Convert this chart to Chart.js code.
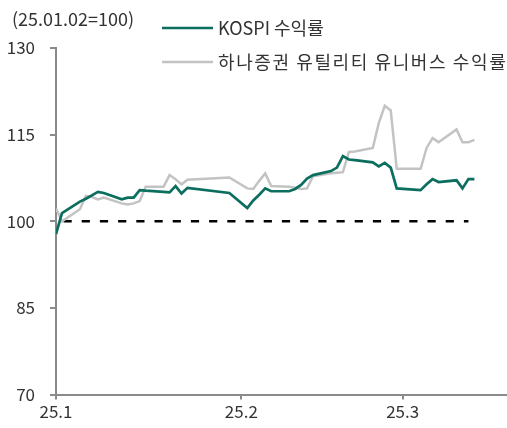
<!DOCTYPE html>
<html>
<head>
<meta charset="utf-8">
<script src="https://cdn.jsdelivr.net/npm/chart.js@4.4.1/dist/chart.umd.min.js"></script>
<style>
  html, body { margin: 0; padding: 0; background: #fff; }
</style>
</head>
<body>
<canvas id="chart" width="507" height="428"></canvas>
<script>
// 데이터 (25.01.02=100)
const unitLabel = '(25.01.02=100)';
const dates = [
  '01-02','01-03','01-06','01-07','01-08','01-09','01-10','01-13','01-14','01-15',
  '01-16','01-17','01-20','01-21','01-22','01-23','01-24','01-31',
  '02-03','02-04','02-05','02-06','02-07','02-10','02-11','02-12','02-13','02-14',
  '02-17','02-18','02-19','02-20','02-21','02-24','02-25','02-26','02-27','02-28',
  '03-04','03-05','03-06','03-07','03-10','03-11','03-12','03-13'
];
const kospi = [
  97.8, 101.4, 103.4, 103.9, 104.5, 105.1, 104.9, 103.8, 104.1, 104.1,
  105.4, 105.3, 105.1, 105.0, 106.1, 104.8, 105.8, 104.9,
  102.3, 103.6, 104.6, 105.7, 105.2, 105.2, 105.6, 106.3, 107.4, 108.0,
  108.7, 109.3, 111.3, 110.7, 110.6, 110.2, 109.5, 110.1, 109.3, 105.7,
  105.4, 106.4, 107.3, 106.8, 107.1, 105.7, 107.3, 107.3
];
const utility = [
  102.2, 100.0, 102.1, 104.4, 104.2, 103.8, 104.1, 103.1, 102.9, 103.1,
  103.5, 106.0, 106.0, 108.0, 107.3, 106.4, 107.2, 107.6,
  105.7, 105.6, 107.0, 108.3, 106.1, 106.0, 105.8, 105.6, 105.7, 107.8,
  108.3, 108.4, 108.5, 112.0, 112.1, 112.7, 117.0, 120.0, 119.2, 109.1,
  109.1, 112.7, 114.4, 113.7, 115.9, 113.7, 113.7, 114.1
];
const baseValue = 100;
const seriesNames = ['KOSPI 수익률', '하나증권 유틸리티 유니버스 수익률'];
const tickDates = ['01-02', '02-02', '03-01'];
const tickLabels = ['25.1', '25.2', '25.3'];

const GREEN = '#0b6e5e';
const GRAY = '#c3c3c3';
const AXIS = '#8a8a8a';
const TEXT = '#333';
const FONT = '"Noto Sans CJK KR", "Noto Sans", sans-serif';

// 연중 일수 (1월 1일 = 1)
const monthStart = [0, 31, 59];
function dayOfYear(s) {
  const [m, d] = s.split('-').map(Number);
  return monthStart[m - 1] + d;
}

const toPoints = (vals) => vals.map((v, i) => ({ x: dayOfYear(dates[i]), y: v }));
const tickDays = tickDates.map(dayOfYear);

// 제목/범례
const labelPlugin = {
  id: 'labels',
  afterDraw(chart) {
    const ctx = chart.ctx;
    ctx.save();
    ctx.font = '18px ' + FONT;
    ctx.fillStyle = TEXT;
    ctx.textBaseline = 'middle';
    ctx.fillText(unitLabel, 12, 19);

    const rows = [
      { color: GREEN, y: 28, spacing: '0px' },
      { color: GRAY, y: 62, spacing: '1.6px' }
    ];
    rows.forEach((r, i) => {
      ctx.strokeStyle = r.color;
      ctx.lineWidth = 2.5;
      ctx.beginPath();
      ctx.moveTo(162, r.y);
      ctx.lineTo(213, r.y);
      ctx.stroke();
      ctx.fillStyle = TEXT;
      ctx.letterSpacing = r.spacing;
      ctx.fillText(seriesNames[i], 218, r.y);
    });
    ctx.restore();
  }
};

new Chart(document.getElementById('chart'), {
  type: 'line',
  data: {
    datasets: [
      {
        label: 'base',
        data: toPoints(dates.slice(0, -1).map(() => baseValue)),
        borderColor: '#000',
        borderWidth: 2.5,
        borderDash: [8.2, 10],
        borderDashOffset: 10.7,
        pointRadius: 0,
        order: 3
      },
      {
        label: seriesNames[0],
        data: toPoints(kospi),
        borderColor: GREEN,
        borderWidth: 2.7,
        pointRadius: 0,
        tension: 0,
        order: 1
      },
      {
        label: seriesNames[1],
        data: toPoints(utility),
        borderColor: GRAY,
        borderWidth: 2.5,
        pointRadius: 0,
        tension: 0,
        order: 2
      }
    ]
  },
  options: {
    responsive: false,
    animation: false,
    devicePixelRatio: 1,
    layout: { padding: { top: 48, right: 0, bottom: 4, left: 0 } },
    plugins: {
      legend: { display: false },
      tooltip: { enabled: false }
    },
    scales: {
      x: {
        type: 'linear',
        min: 2,
        max: 77.45,
        afterBuildTicks(s) { s.ticks = tickDays.map(v => ({ value: v })); },
        ticks: {
          autoSkip: false,
          maxRotation: 0,
          padding: 2,
          color: TEXT,
          font: { family: FONT, size: 17 },
          callback: (v) => tickLabels[tickDays.indexOf(v)]
        },
        grid: { drawOnChartArea: false, tickLength: 5, color: AXIS, lineWidth: 2 },
        border: { color: AXIS, width: 2 }
      },
      y: {
        min: 70,
        max: 130,
        ticks: {
          stepSize: 15,
          padding: 15,
          color: TEXT,
          font: { family: FONT, size: 17 }
        },
        grid: { drawOnChartArea: false, tickLength: 6, color: AXIS, lineWidth: 2 },
        border: { color: AXIS, width: 2 },
        afterFit(s) { s.width = 56; }
      }
    }
  },
  plugins: [labelPlugin]
});
</script>
</body>
</html>
